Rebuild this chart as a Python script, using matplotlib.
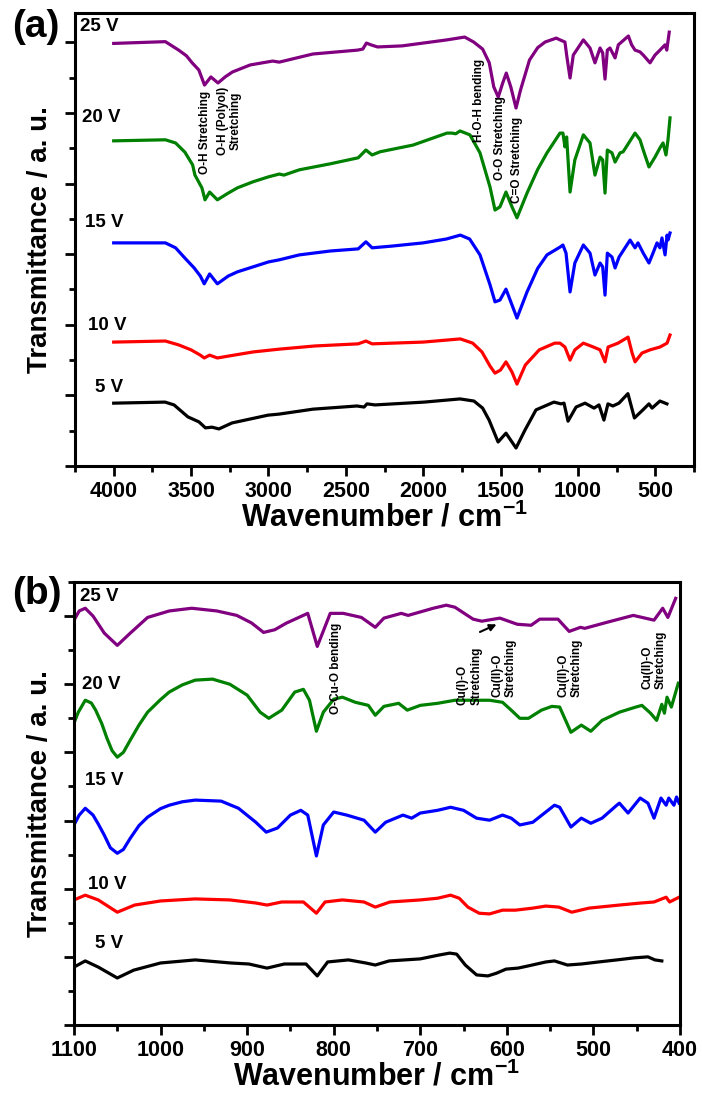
import matplotlib
matplotlib.use('Agg')
import matplotlib.pyplot as plt
from matplotlib.ticker import MultipleLocator, NullFormatter

plt.rcParams['font.family'] = ['Liberation Sans', 'DejaVu Sans']
plt.rcParams['mathtext.fontset'] = 'custom'
plt.rcParams['mathtext.bf'] = 'Liberation Sans:bold'
plt.rcParams['mathtext.rm'] = 'Liberation Sans:bold'

# ---------------- panel (a): 4000-400 cm-1 ----------------
wn_a_25 = [4000, 3666, 3580, 3530, 3493, 3450, 3413, 3372, 3326, 3280, 3233, 3118, 2973, 2930, 2713, 2424, 2390,
           2367, 2338, 2295, 2136, 1847, 1732, 1674, 1616, 1573, 1544, 1515, 1486, 1463, 1434, 1400,
           1371, 1313, 1260, 1212, 1140, 1116, 1084, 1073, 1051, 1030, 965, 922, 890, 857, 840, 825, 810,
           793, 760, 739, 674, 653, 631, 599, 578, 534, 502, 470, 437, 426, 410]
t_a_25 = [11.97, 12.02, 11.78, 11.62, 11.42, 11.22, 10.79, 11.02, 10.85, 11.02, 11.16, 11.36, 11.47, 11.44, 11.67, 11.78, 11.81,
          11.98, 11.93, 11.87, 11.90, 12.07, 12.15, 12.01, 11.81, 11.42, 10.74, 10.45, 10.85, 11.13, 10.74, 10.14,
          10.65, 11.50, 11.85, 12.01, 12.12, 12.07, 12.01, 11.64, 10.99, 11.64, 12.07, 11.84, 11.42, 11.84, 11.70, 10.96, 11.78,
          11.84, 11.56, 11.93, 12.18, 11.93, 11.78, 11.73, 11.64, 11.42, 11.64, 11.78, 11.93, 11.78, 12.29]

wn_a_20 = [4000, 3666, 3600, 3540, 3490, 3475, 3430, 3410, 3380, 3330, 3260, 3200, 3100, 3000, 2930,
           2900, 2800, 2600, 2420, 2370, 2330, 2279, 2066, 1846, 1814, 1790, 1762, 1698, 1633, 1568,
           1536, 1504, 1465, 1426, 1394, 1329, 1260, 1200, 1116, 1097, 1084, 1073, 1051, 1020, 965, 922,
           890, 857, 840, 825, 810, 780, 760, 728, 708, 631, 599, 578, 541, 502, 470, 450, 431, 418, 405]
t_a_20 = [9.21, 9.24, 9.15, 8.89, 8.53, 8.24, 7.88, 7.54, 7.76, 7.54, 7.73, 7.88, 8.05, 8.19, 8.27,
          8.24, 8.39, 8.56, 8.73, 8.95, 8.81, 8.90, 9.09, 9.43, 9.43, 9.41, 9.49, 9.38, 8.87, 7.90,
          7.25, 7.34, 7.76, 7.34, 7.03, 7.73, 8.40, 8.87, 9.43, 9.43, 9.04, 9.32, 7.76, 8.67, 9.38, 9.15,
          8.24, 8.75, 8.67, 7.73, 8.95, 8.87, 8.61, 8.87, 8.90, 9.43, 9.24, 8.95, 8.47, 8.75, 9.01, 9.15, 8.81, 9.24, 9.86]

wn_a_15 = [4000, 3666, 3600, 3540, 3480, 3440, 3415, 3380, 3330, 3260, 3200, 3100, 3000, 2930, 2800,
           2600, 2420, 2370, 2330, 2200, 2000, 1850, 1760, 1700, 1633, 1568, 1536, 1504, 1465, 1426,
           1394, 1329, 1260, 1200, 1116, 1097, 1077, 1051, 1020, 965, 922, 890, 857, 840, 825, 810, 780,
           760, 734, 663, 631, 612, 578, 541, 515, 489, 470, 457, 437, 424, 418, 405]
t_a_15 = [6.32, 6.32, 6.18, 5.89, 5.61, 5.38, 5.16, 5.44, 5.16, 5.38, 5.50, 5.64, 5.78, 5.84, 5.98,
          6.09, 6.15, 6.35, 6.18, 6.23, 6.32, 6.43, 6.54, 6.43, 5.98, 5.13, 4.65, 4.70, 5.01, 4.56,
          4.19, 4.93, 5.60, 5.98, 6.20, 6.26, 6.03, 4.93, 5.75, 6.26, 6.03, 5.41, 5.75, 5.64, 4.84, 6.03, 5.92,
          5.61, 5.92, 6.40, 6.18, 6.32, 6.03, 5.75, 6.03, 6.32, 6.18, 6.46, 5.98, 6.54, 6.40, 6.60]

wn_a_10 = [4000, 3666, 3580, 3500, 3440, 3415, 3380, 3330, 3250, 3100, 2930, 2700, 2420, 2370, 2330,
           2000, 1760, 1680, 1620, 1568, 1536, 1500, 1465, 1426, 1394, 1340, 1250, 1150, 1116, 1084,
           1051, 1020, 965, 900, 857, 825, 805, 741, 676, 650, 631, 586, 534, 470, 424, 405]
t_a_10 = [3.51, 3.54, 3.43, 3.29, 3.14, 3.06, 3.14, 3.06, 3.12, 3.23, 3.31, 3.40, 3.46, 3.54, 3.46,
          3.51, 3.60, 3.48, 3.23, 2.83, 2.63, 2.72, 2.95, 2.66, 2.32, 2.86, 3.29, 3.48, 3.48, 3.37,
          3.00, 3.29, 3.48, 3.37, 3.29, 2.95, 3.37, 3.48, 3.65, 3.20, 2.95, 3.20, 3.29, 3.37, 3.48, 3.71]

wn_a_5 = [4000, 3668, 3610, 3520, 3449, 3407, 3365, 3320, 3235, 3003, 2931, 2712, 2428, 2382, 2363,
          2311, 1994, 1762, 1672, 1616, 1574, 1516, 1465, 1400, 1342, 1271, 1155, 1110, 1090, 1064,
          1012, 954, 896, 864, 832, 806, 774, 735, 677, 635, 580, 541, 521, 470, 425]
t_a_5 = [1.78, 1.81, 1.73, 1.39, 1.25, 1.08, 1.10, 1.05, 1.22, 1.44, 1.47, 1.61, 1.70, 1.67, 1.76,
         1.73, 1.81, 1.90, 1.84, 1.64, 1.30, 0.68, 0.93, 0.51, 1.02, 1.59, 1.81, 1.76, 1.78, 1.27,
         1.67, 1.78, 1.64, 1.73, 1.30, 1.76, 1.70, 1.78, 2.05, 1.36, 1.59, 1.76, 1.64, 1.84, 1.76]

# ---------------- panel (b): 1100-400 cm-1 ----------------
wn_b_25 = [1100, 1094, 1087, 1078, 1065, 1050, 1035, 1015, 990, 964, 935, 912, 895, 881, 868, 855, 830,
           819, 804, 789, 768, 752, 742, 722, 714, 685, 670, 660, 639, 629, 608, 588, 572, 562, 541, 528,
           515, 510, 484, 454, 430, 420, 414, 405]
t_b_25 = [11.88, 12.15, 12.23, 12.00, 11.50, 11.14, 11.50, 11.96, 12.15, 12.23, 12.15, 12.02, 11.80, 11.52,
          11.60, 11.79, 12.08, 11.11, 12.08, 12.08, 11.96, 11.67, 11.94, 12.08, 12.02, 12.23, 12.32, 12.26,
          11.91, 11.85, 11.94, 11.76, 11.73, 11.91, 11.91, 11.55, 11.67, 11.64, 11.82, 12.02, 11.88, 12.23,
          11.96, 12.52]

wn_b_20 = [1100, 1095, 1087, 1080, 1075, 1068, 1062, 1056, 1050, 1043, 1035, 1025, 1015, 1000, 990, 975,
           960, 940, 920, 900, 885, 875, 860, 845, 835, 828, 820, 812, 800, 790, 775, 760, 752, 742, 725,
           715, 700, 680, 660, 640, 620, 605, 595, 585, 575, 560, 548, 539, 526, 514, 503, 490, 470, 451,
           444, 434, 427, 421, 418, 415, 410, 407, 402]
t_b_20 = [8.86, 9.18, 9.53, 9.45, 9.24, 8.85, 8.42, 8.05, 7.86, 8.00, 8.36, 8.80, 9.18, 9.55, 9.77, 9.98,
          10.12, 10.15, 10.00, 9.68, 9.18, 9.00, 9.24, 9.77, 9.85, 9.53, 8.62, 9.18, 9.56, 9.62, 9.47, 9.38,
          9.09, 9.35, 9.44, 9.24, 9.38, 9.44, 9.53, 9.53, 9.53, 9.47, 9.24, 9.00, 9.00, 9.24, 9.35, 9.33,
          8.59, 8.80, 8.62, 8.94, 9.18, 9.33, 9.38, 9.15, 8.94, 9.41, 9.15, 9.62, 9.33, 9.59, 10.03]

wn_b_15 = [1100, 1094, 1087, 1078, 1072, 1065, 1058, 1050, 1043, 1035, 1025, 1015, 1000, 990, 975, 960,
           930, 910, 890, 878, 865, 850, 838, 830, 820, 812, 800, 785, 765, 752, 740, 720, 710, 700, 680,
           665, 650, 635, 620, 605, 595, 585, 570, 555, 545, 539, 526, 514, 503, 490, 473, 470, 460, 446,
           437, 430, 422, 416, 413, 407, 404, 401]
t_b_15 = [5.87, 6.16, 6.36, 6.16, 5.90, 5.57, 5.20, 5.04, 5.15, 5.48, 5.85, 6.10, 6.35, 6.45, 6.55, 6.60,
          6.57, 6.36, 5.95, 5.66, 5.78, 6.16, 6.30, 6.16, 4.96, 5.87, 6.25, 6.16, 6.01, 5.66, 5.95, 6.16,
          6.07, 6.22, 6.30, 6.39, 6.30, 6.07, 6.01, 6.16, 6.07, 5.87, 5.95, 6.25, 6.45, 6.39, 5.81, 6.07,
          5.92, 6.07, 6.45, 6.51, 6.22, 6.66, 6.51, 6.07, 6.66, 6.45, 6.66, 6.45, 6.69, 6.51]

wn_b_10 = [1100, 1087, 1072, 1050, 1030, 1000, 960, 920, 890, 877, 860, 835, 820, 810, 790, 765, 752,
           735, 700, 680, 665, 655, 645, 632, 620, 605, 590, 570, 555, 540, 525, 505, 470, 445, 430, 416,
           412, 405, 401]
t_b_10 = [3.67, 3.81, 3.67, 3.31, 3.52, 3.64, 3.70, 3.67, 3.58, 3.52, 3.61, 3.61, 3.28, 3.61, 3.67, 3.61,
          3.46, 3.61, 3.67, 3.72, 3.81, 3.72, 3.46, 3.28, 3.26, 3.37, 3.37, 3.43, 3.49, 3.46, 3.31, 3.43, 3.52,
          3.58, 3.61, 3.75, 3.61, 3.70, 3.75]

wn_b_5 = [1100, 1087, 1072, 1050, 1031, 1000, 960, 919, 898, 877, 857, 832, 819, 807, 783, 763, 752,
          736, 700, 679, 666, 658, 648, 635, 622, 612, 601, 587, 576, 555, 545, 530, 514, 494, 473, 453,
          437, 429, 421]
t_b_5 = [1.70, 1.88, 1.70, 1.38, 1.61, 1.82, 1.91, 1.82, 1.79, 1.67, 1.79, 1.79, 1.44, 1.85, 1.91, 1.82,
         1.76, 1.88, 1.94, 2.05, 2.11, 2.08, 1.76, 1.47, 1.44, 1.52, 1.64, 1.67, 1.73, 1.85, 1.88, 1.76, 1.79,
         1.85, 1.91, 1.97, 2.00, 1.91, 1.88]

voltages = ['25 V', '20 V', '15 V', '10 V', '5 V']
colors = ['#800080', '#008000', '#0000FF', '#FF0000', '#000000']

label_pos_a = [(4218, 12.45), (4205, 9.86), (4185, 6.91), (4166, 3.97), (4121, 2.21)]
label_pos_b = [(1093, 12.58), (1091, 10.00), (1087, 7.18), (1084, 4.11), (1076, 2.38)]

series_a = [(wn_a_25, t_a_25), (wn_a_20, t_a_20), (wn_a_15, t_a_15), (wn_a_10, t_a_10), (wn_a_5, t_a_5)]
series_b = [(wn_b_25, t_b_25), (wn_b_20, t_b_20), (wn_b_15, t_b_15), (wn_b_10, t_b_10), (wn_b_5, t_b_5)]

# annotations: (text, x, y, va, multialignment)
notes_a = [('O-H Stretching', 3410, 10.62, 'top', 'center'),
           ('O-H (Polyol)\nStretching', 3252, 10.74, 'top', 'center'),
           ('H-O-H bending', 1639, 9.18, 'bottom', 'center'),
           ('O-O Stretching', 1504, 8.10, 'bottom', 'center'),
           ('C=O Stretching', 1394, 7.45, 'bottom', 'center')]
notes_b = [('O-Cu-O bending', 797, 11.80, 'top', 'left'),
           ('Cu(I)-O\nStretching', 643, 9.38, 'bottom', 'left'),
           ('Cu(II)-O\nStretching', 603, 9.62, 'bottom', 'left'),
           ('Cu(II)-O\nStretching', 527, 9.62, 'bottom', 'left'),
           ('Cu(II)-O\nStretching', 430, 9.85, 'bottom', 'left')]

W, H = 702, 1097
fig = plt.figure(figsize=(W / 100, H / 100), dpi=100)
ax1 = fig.add_axes([75 / W, 1 - 466 / H, (694 - 75) / W, (466 - 12.7) / H])
ax2 = fig.add_axes([74 / W, 1 - 1025 / H, (680 - 74) / W, (1025 - 582) / H])

LW = 2.3
for ax, series, lpos, notes in [(ax1, series_a, label_pos_a, notes_a), (ax2, series_b, label_pos_b, notes_b)]:
    for (x, y), c, v, (lx, ly) in zip(series, colors, voltages, lpos):
        ax.plot(x, y, color=c, lw=LW, solid_joinstyle='round')
        ax.text(lx, ly, v, fontsize=13.5, fontweight='bold', ha='left', va='center')
    for txt, x, y, va, ma in notes:
        ax.text(x, y, txt, rotation=90, fontsize=8.5, fontweight='bold', ha='center', va=va,
                multialignment=ma, linespacing=1.15)
    for s in ax.spines.values():
        s.set_linewidth(2.2)
    ax.yaxis.set_major_locator(MultipleLocator(2))
    ax.yaxis.set_minor_locator(MultipleLocator(1))
    ax.yaxis.set_major_formatter(NullFormatter())
    ax.tick_params(which='major', direction='out', length=7, width=2.0, labelsize=15.5, pad=4)
    ax.tick_params(which='minor', direction='out', length=4, width=2.0)
    ax.tick_params(top=False, right=False, which='both')
    ax.set_xlabel('Wavenumber / cm$^{\\mathbf{-1}}$', fontsize=22, fontweight='bold', labelpad=0)
    ax.set_ylabel('Transmittance / a. u.', fontsize=20, fontweight='bold')

ax1.set_xlim(4250, 250)
ax1.set_ylim(0, 12.84)
ax1.xaxis.set_major_locator(MultipleLocator(500))
ax1.xaxis.set_minor_locator(MultipleLocator(250))

ax2.set_xlim(1100, 400)
ax2.set_ylim(0, 13)
ax2.xaxis.set_major_locator(MultipleLocator(100))
ax2.xaxis.set_minor_locator(MultipleLocator(50))

for ax in (ax1, ax2):
    for lab in ax.get_xticklabels():
        lab.set_fontweight('bold')
    ax.yaxis.set_label_coords(-0.035, 0.5)

ax2.annotate('', xy=(609, 11.79), xytext=(634, 11.50),
             arrowprops=dict(arrowstyle='-|>', color='black', lw=1.5, mutation_scale=10))

fig.text(12 / W, 1 - 27 / H, '(a)', fontsize=28, fontweight='bold', ha='left', va='center')
fig.text(12 / W, 1 - 594 / H, '(b)', fontsize=28, fontweight='bold', ha='left', va='center')

fig.savefig('out.png', dpi=100)
